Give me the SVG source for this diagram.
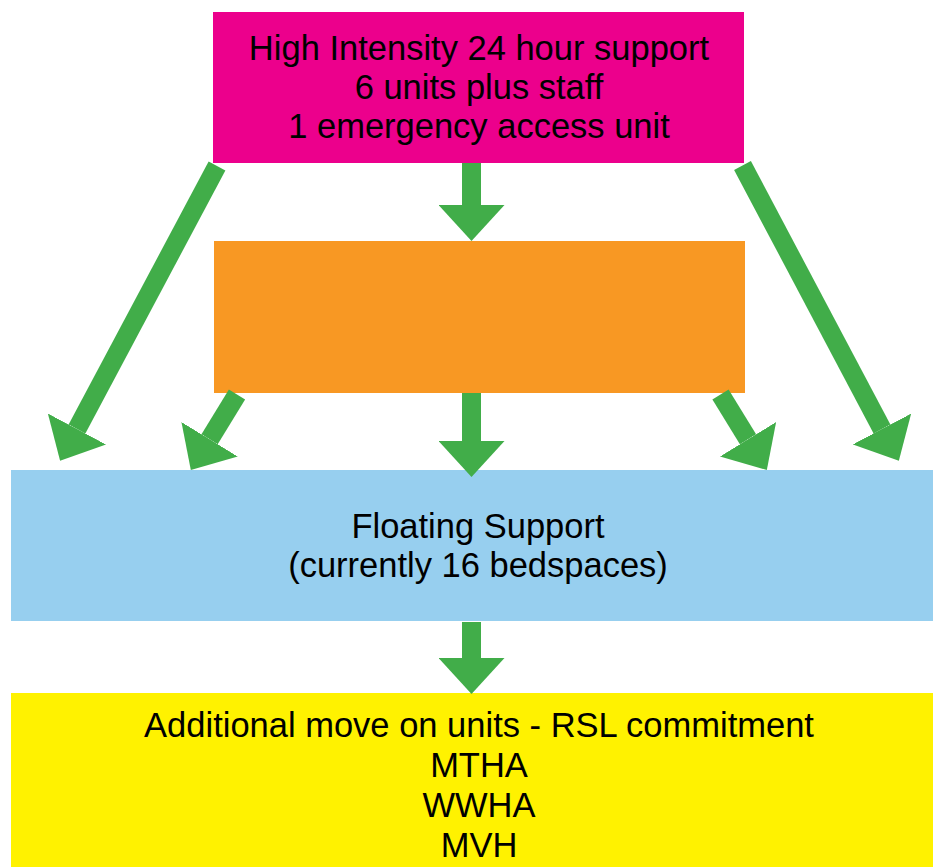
<svg xmlns="http://www.w3.org/2000/svg" width="933" height="867" viewBox="0 0 933 867">
<defs>
<marker id="head" markerUnits="userSpaceOnUse" viewBox="0 -33 36 66" refX="0" refY="0" markerWidth="36" markerHeight="66" orient="auto">
<path d="M0,-33 L36,0 L0,33 Z" fill="#41AD49"/>
</marker>
<style>
.lbl{font-family:"Liberation Sans",Arial,sans-serif;font-size:34.5px;fill:#000;text-anchor:middle}
.arr{stroke:#41AD49;stroke-width:19;fill:none;marker-end:url(#head)}
</style>
</defs>
<rect width="933" height="867" fill="#fff"/>
<g id="high-intensity">
<rect x="213" y="12" width="531" height="151" fill="#EC008C"/>
<text class="lbl" x="479" y="60">High Intensity 24 hour support</text>
<text class="lbl" x="479" y="99">6 units plus staff</text>
<text class="lbl" x="479" y="138">1 emergency access unit</text>
</g>
<g id="orange">
<rect x="214" y="241" width="531" height="152" fill="#F89823"/>
</g>
<g id="floating">
<rect x="11" y="470" width="922" height="151" fill="#97CFEF"/>
<text class="lbl" x="478" y="538">Floating Support</text>
<text class="lbl" x="478" y="577">(currently 16 bedspaces)</text>
</g>
<g id="additional">
<rect x="11" y="693" width="922" height="174" fill="#FFF200"/>
<text class="lbl" x="479" y="737">Additional move on units - RSL commitment</text>
<text class="lbl" x="479" y="777">MTHA</text>
<text class="lbl" x="479" y="817">WWHA</text>
<text class="lbl" x="479" y="857">MVH</text>
</g>
<g id="connectors">
<line class="arr" x1="471.5" y1="163" x2="471.5" y2="205"/>
<line class="arr" x1="217" y1="166" x2="77" y2="429"/>
<line class="arr" x1="742.5" y1="165.5" x2="882" y2="429"/>
<line class="arr" x1="237" y1="394.5" x2="209.6" y2="439.3"/>
<line class="arr" x1="471.5" y1="393" x2="471.5" y2="441"/>
<line class="arr" x1="720.5" y1="394.5" x2="748" y2="439.3"/>
<line class="arr" x1="471.5" y1="622" x2="471.5" y2="658"/>
</g>
</svg>
